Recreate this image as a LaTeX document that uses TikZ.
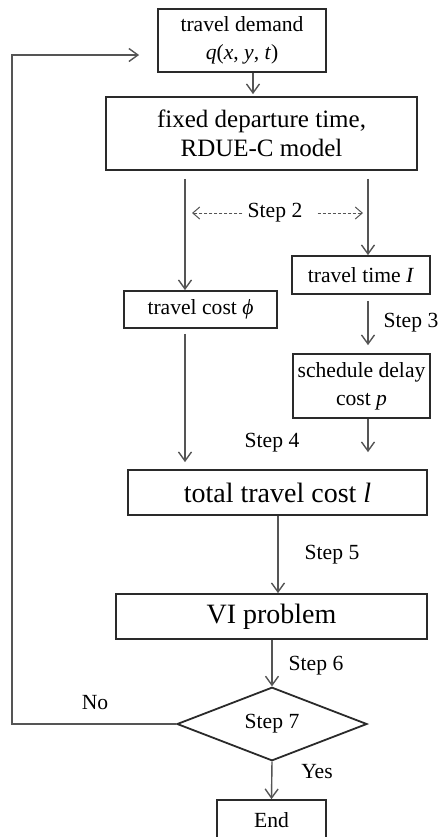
\documentclass[tikz,border=0pt]{standalone}
\usepackage{fontspec}
\setmainfont{Liberation Serif}
\usetikzlibrary{arrows.meta,shapes.geometric}
\definecolor{boxline}{HTML}{2A2A2A}
\definecolor{arrline}{HTML}{555555}
\newcommand{\smallfnt}{\fontsize{10.8pt}{13.8pt}\selectfont}
\newcommand{\midfnt}{\fontsize{12.5pt}{14.5pt}\selectfont}
\newcommand{\bigfnt}{\fontsize{14pt}{16pt}\selectfont}
\tikzset{
  box/.style={draw=boxline, line width=0.9pt, inner sep=0pt, align=center},
  decide/.style={box, shape=diamond},
  lbl/.style={inner sep=0pt, font=\smallfnt},
  arr/.style={draw=arrline, line width=0.7pt, -{Straight Barb[length=4.5pt,width=6.5pt]}},
  dasharr/.style={draw=arrline, line width=0.5pt, dash pattern=on 1.5pt off 1pt,
    -{Straight Barb[length=3.5pt,width=6pt]}}
}
\begin{document}
\begin{tikzpicture}[x=0.5pt,y=-0.5pt]
  \useasboundingbox (0,0) rectangle (438,837);
  \draw
    (242,40.5) node[box, minimum width=84pt, minimum height=31.5pt, font=\smallfnt] (demand){travel demand\\\textit{q}(\textit{x}, \textit{y}, \textit{t})}
    (261.5,133.5) node[box, minimum width=155.5pt, minimum height=36.5pt, font=\midfnt] (fixed){fixed departure time,\\RDUE-C model}
    (361,275) node[box, minimum width=69pt, minimum height=19pt, font=\smallfnt] (time){travel time \textit{I}}
    (200.5,309.5) node[box, minimum width=76.5pt, minimum height=18.5pt, font=\smallfnt] (cost){travel cost \textit{ϕ}}
    (361.5,386) node[box, minimum width=68.5pt, minimum height=32pt, font=\smallfnt] (delay){schedule delay\\cost \textit{p}}
    (277.5,492.5) node[box, minimum width=149.5pt, minimum height=22.5pt, font=\bigfnt] (total){total travel cost \textit{l}}
    (271.5,616.5) node[box, minimum width=155.5pt, minimum height=22.5pt, font=\bigfnt] (VI){VI problem}
    (272,724) node[decide, minimum width=95pt, minimum height=29pt, font=\smallfnt] (step7){Step 7}
    (271.5,820) node[box, minimum width=54.5pt, minimum height=20pt, font=\smallfnt] (end){End};
  \draw
    (275,213) node[lbl] (step2){Step 2}
    (411,323) node[lbl] (step3){Step 3}
    (272,443) node[lbl] (step4){Step 4}
    (332,555) node[lbl] (step5){Step 5}
    (316,666) node[lbl] (step6){Step 6}
    (95,703) node[lbl] (no){No}
    (317,772) node[lbl] (yes){Yes};
  % columns of the connectors
  \coordinate (colT) at (253,0);
  \coordinate (colL) at (185,0);
  \coordinate (colR) at (368,0);
  \coordinate (colM) at (278,0);
  \coordinate (colC) at (272,0);
  \coordinate (loopB) at (12,724);
  \coordinate (loopT) at (12,55);
  \begin{scope}
    \draw[arr, shorten >=1pt] (demand.south -| colT) to (fixed.north -| colT);
    \draw[arr, shorten <=4pt] (fixed.south -| colL) to (cost.north -| colL);
    \draw[arr, shorten <=4pt] (fixed.south -| colR) to (time.north -| colR);
    \draw[dasharr, shorten <=2.5pt, shorten >=3.5pt] (step2.west) to (step2.west -| colL);
    \draw[dasharr, shorten <=7.5pt, shorten >=2.5pt] (step2.east) to (step2.east -| colR);
    \draw[arr, shorten <=3pt, shorten >=4pt] (time.south -| colR) to (delay.north -| colR);
    \draw[arr, shorten <=2.5pt, shorten >=3.5pt] (cost.south -| colL) to (total.north -| colL);
    \draw[arr, shorten >=8.5pt] (delay.south -| colR) to (total.north -| colR);
    \draw[arr] (total.south -| colM) to (VI.north -| colM);
    \draw[arr] (VI.south -| colC) to (step7.north);
    \draw[arr] (step7.south) to (end.north);
    \draw[arr, shorten >=9pt] (step7.west) -- (loopB) -- (loopT) -- (demand.west |- loopT);
  \end{scope}
\end{tikzpicture}
\end{document}
